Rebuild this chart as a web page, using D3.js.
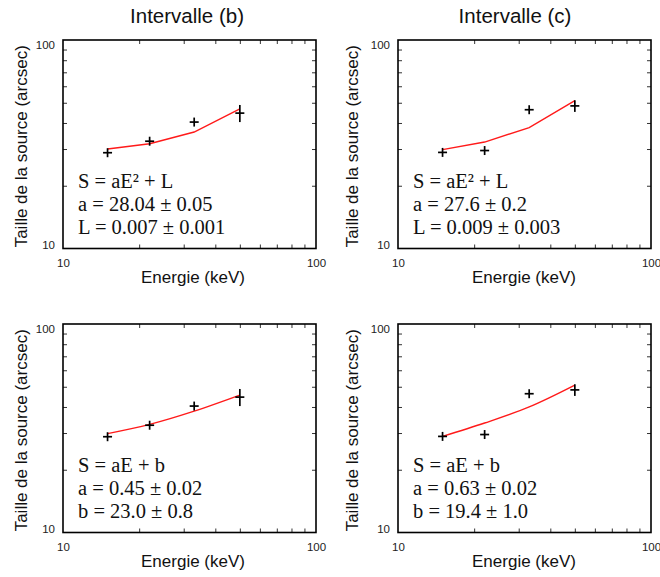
<!DOCTYPE html>
<html><head><meta charset="utf-8">
<script src="https://cdn.jsdelivr.net/npm/d3@7"></script>
<style>body{margin:0;background:#fff}</style>
</head><body>
<svg id="chart" width="660" height="577"></svg>
<script>
// ---- data ----
const energies = [15, 22, 33, 50];
const sizeB = [28.8, 32.7, 40.4, 44.6];
const errB = [0, 0, 0, 4.2];
const sizeC = [28.9, 29.5, 46.3, 48.3];
const errC = [0, 0, 0, 3.1];
const fitQuadB = [30.0, 31.8, 36.2, 46.8];
const fitQuadC = [29.8, 32.4, 38.0, 51.2];
const fitLinB = [29.8, 33.0, 38.2, 45.6];
const fitLinC = [28.9, 33.5, 40.0, 50.9];
const axisDomain = [10, 100];
const majorTicks = [10, 100];
const minorTicks = [20, 30, 40, 50, 60, 70, 80, 90];
const columnTitles = ["Intervalle (b)", "Intervalle (c)"];
const xTitle = "Energie (keV)";
const yTitle = "Taille de la source (arcsec)";
const annQuadB = ["S = aE² + L", "a = 28.04 ± 0.05", "L = 0.007 ± 0.001"];
const annQuadC = ["S = aE² + L", "a = 27.6 ± 0.2", "L = 0.009 ± 0.003"];
const annLinB = ["S = aE + b", "a = 0.45 ± 0.02", "b = 23.0 ± 0.8"];
const annLinC = ["S = aE + b", "a = 0.63 ± 0.02", "b = 19.4 ± 1.0"];

// ---- layout ----
const W = 253, H = 208.5;
const colX = [63, 398];
const rowY = [40, 324];
const panels = [
  {col:0,row:0,size:sizeB,err:errB,fit:fitQuadB,ann:annQuadB,curve:d3.curveLinear},
  {col:1,row:0,size:sizeC,err:errC,fit:fitQuadC,ann:annQuadC,curve:d3.curveLinear},
  {col:0,row:1,size:sizeB,err:errB,fit:fitLinB,ann:annLinB,curve:d3.curveMonotoneX},
  {col:1,row:1,size:sizeC,err:errC,fit:fitLinC,ann:annLinC,curve:d3.curveMonotoneX}
];
const svg = d3.select("#chart");
const sans = "'Liberation Sans', Arial, sans-serif";
const serif = "'Liberation Serif', 'Times New Roman', serif";

// column titles
svg.selectAll("text.title").data(columnTitles).join("text")
  .attr("class","title")
  .attr("x",(d,i)=> i===0 ? 187 : 515).attr("y",23)
  .attr("text-anchor","middle").attr("font-family",sans).attr("font-size",20.5)
  .attr("fill","#111").text(d=>d);

panels.forEach(p=>{
  const x0 = colX[p.col], y0 = rowY[p.row];
  const g = svg.append("g").attr("transform",`translate(${x0},${y0})`);
  const x = d3.scaleLog().domain(axisDomain).range([0,W]);
  const y = d3.scaleLog().domain(axisDomain).range([H,0]);

  // minor ticks on all sides (inward)
  const tickStyle = s => { s.select(".domain").remove(); s.selectAll("line").attr("stroke","#333").attr("stroke-width",1); };
  g.append("g").attr("transform",`translate(0,${H})`)
    .call(d3.axisBottom(x).tickValues(minorTicks).tickSize(-4).tickFormat(""))
    .call(tickStyle);
  g.append("g")
    .call(d3.axisTop(x).tickValues(minorTicks).tickSize(-4).tickFormat(""))
    .call(tickStyle);
  g.append("g")
    .call(d3.axisLeft(y).tickValues(minorTicks).tickSize(-4).tickFormat(""))
    .call(tickStyle);
  g.append("g").attr("transform",`translate(${W},0)`)
    .call(d3.axisRight(y).tickValues(minorTicks).tickSize(-4).tickFormat(""))
    .call(tickStyle);

  // tick labels
  const xl = g.append("g").attr("transform",`translate(0,${H})`)
    .call(d3.axisBottom(x).tickValues(majorTicks).tickSize(0).tickPadding(10).tickFormat(d3.format("d")));
  xl.select(".domain").remove();
  xl.selectAll("text").attr("font-family",sans).attr("font-size",11.5).attr("fill","#222");
  const yl = g.append("g")
    .call(d3.axisLeft(y).tickValues(majorTicks).tickSize(0).tickPadding(8).tickFormat(d3.format("d")));
  yl.select(".domain").remove();
  yl.selectAll("text").attr("font-family",sans).attr("font-size",11.5).attr("fill","#222")
    .attr("dy", d => d===100 ? "0.78em" : "0em");

  // box
  g.append("rect").attr("x",0).attr("y",0).attr("width",W).attr("height",H)
    .attr("fill","none").attr("stroke","#000").attr("stroke-width",1.6);

  // fit line
  const line = d3.line().x((d,i)=>x(energies[i])).y(d=>y(d)).curve(p.curve);
  g.append("path").datum(p.fit).attr("d",line)
    .attr("fill","none").attr("stroke","#ff1a1a").attr("stroke-width",1.4);

  // data points: plus markers + error bars
  const pts = g.append("g").attr("stroke","#000").attr("stroke-width",1.7);
  p.size.forEach((v,i)=>{
    const cx = x(energies[i]), cy = y(v);
    pts.append("line").attr("x1",cx-4.5).attr("x2",cx+4.5).attr("y1",cy).attr("y2",cy);
    const e = p.err[i];
    const ya = e>0 ? y(v+e) : cy-4.5, yb = e>0 ? y(v-e) : cy+4.5;
    pts.append("line").attr("x1",cx).attr("x2",cx).attr("y1",ya).attr("y2",yb);
  });

  // annotation
  g.append("g").selectAll("text").data(p.ann).join("text")
    .attr("x",15).attr("y",(d,i)=>148+i*23)
    .attr("font-family",serif).attr("font-size",20.5).attr("fill","#111")
    .text(d=>d);

  // axis titles
  g.append("text").attr("x", p.col===0 ? 130 : 126).attr("y",H+34)
    .attr("text-anchor","middle").attr("font-family",sans).attr("font-size",17)
    .attr("fill","#111").text(xTitle);
  g.append("text").attr("transform",`translate(${p.col===0 ? -36 : -40},${H/2+2}) rotate(-90)`)
    .attr("text-anchor","middle").attr("font-family",sans).attr("font-size",17)
    .attr("fill","#111").text(yTitle);
});
</script>
</body></html>
